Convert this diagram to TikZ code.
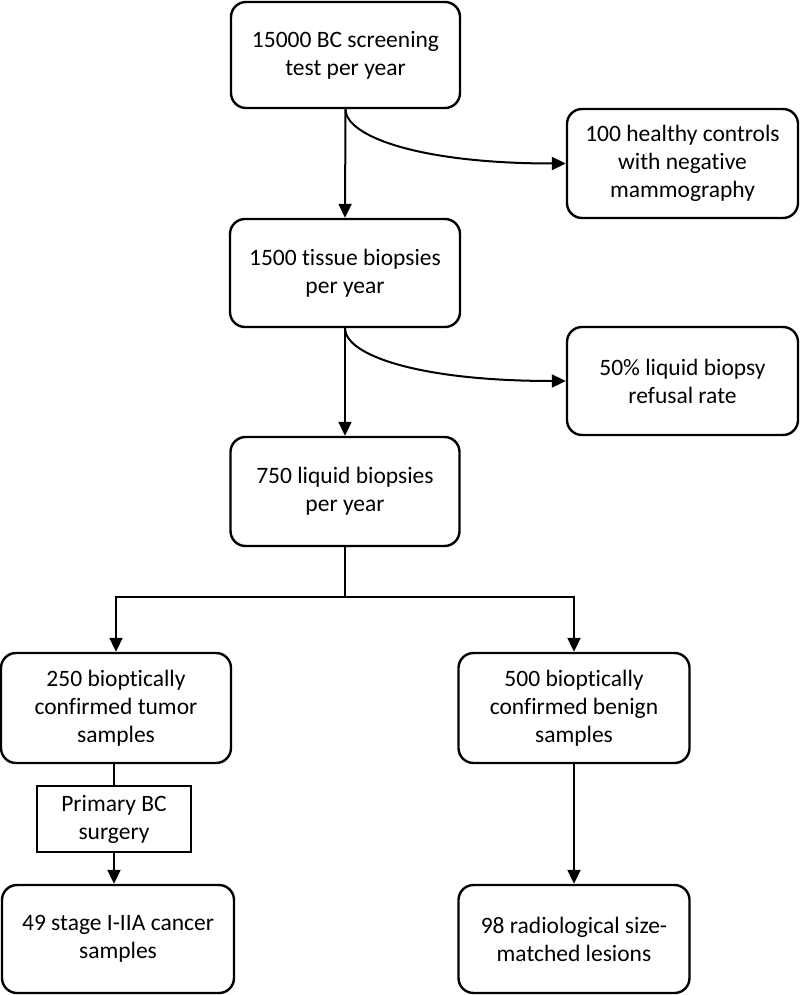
\documentclass[tikz,border=0pt]{standalone}
\usepackage{fontspec}
\setmainfont{Carlito}[Ligatures={NoCommon}]
\usetikzlibrary{arrows.meta}
\begin{document}
\begin{tikzpicture}[x=1pt,y=-1pt,
  box/.style={draw=black, line width=2.4pt, rounded corners=15pt, align=center,
    inner sep=0pt, font=\fontsize{23.5}{28}\selectfont},
  sqbox/.style={draw=black, line width=2pt, align=center, inner sep=0pt,
    font=\fontsize{23.5}{28}\selectfont},
  conn/.style={draw=black, line width=2pt},
  arr/.style={conn, -{Triangle[length=14pt,width=13pt]}}]
\useasboundingbox (0,0) rectangle (800,995);
\node[box, minimum width=229pt, minimum height=106pt] (b1) at (345.5,55) {15000 BC screening\\test per year};
\node[box, minimum width=231pt, minimum height=109pt] (hc) at (682.5,163.5) {100 healthy controls\\with negative\\mammography};
\node[box, minimum width=230pt, minimum height=108pt] (b2) at (345,273) {1500 tissue biopsies\\per year};
\node[box, minimum width=231pt, minimum height=108pt] (rf) at (682.5,381) {50\% liquid biopsy\\refusal rate};
\node[box, minimum width=229pt, minimum height=109pt] (b3) at (345,491.5) {750 liquid biopsies\\per year};
\node[box, minimum width=230pt, minimum height=110pt] (tu) at (116,708) {250 bioptically\\confirmed tumor\\samples};
\node[box, minimum width=231pt, minimum height=110pt] (be) at (574,708) {500 bioptically\\confirmed benign\\samples};
\node[sqbox, minimum width=154pt, minimum height=66pt] (su) at (114,819) {Primary BC\\surgery};
\node[box, minimum width=232pt, minimum height=108pt] (ca) at (118,939) {49 stage I-IIA cancer\\samples};
\node[box, minimum width=231pt, minimum height=108pt] (rl) at (574,939) {98 radiological size-\\matched lesions};
% main flow
\draw[arr] (b1.south) -- (b2.north);
\draw[arr] (b2.south) -- (b3.north);
\draw[arr] (b1.south) .. controls +(0,27) and +(-147,0) .. (hc.west);
\draw[arr] (b2.south) .. controls +(0,27) and +(-147,0) .. (rf.west);
% branch
\coordinate (sp) at (345,597);
\draw[conn, line width=1.6pt] (b3.south) -- (sp);
\draw[arr] (sp) -| (tu.north);
\draw[arr] (sp) -| (be.north);
% left column
\draw[conn, line width=1.6pt] (su.north |- tu.south) -- (su.north);
\draw[arr] (su.south) -- (su.south |- ca.north);
% right column
\draw[arr] (be.south) -- (rl.north);
\end{tikzpicture}
\end{document}
